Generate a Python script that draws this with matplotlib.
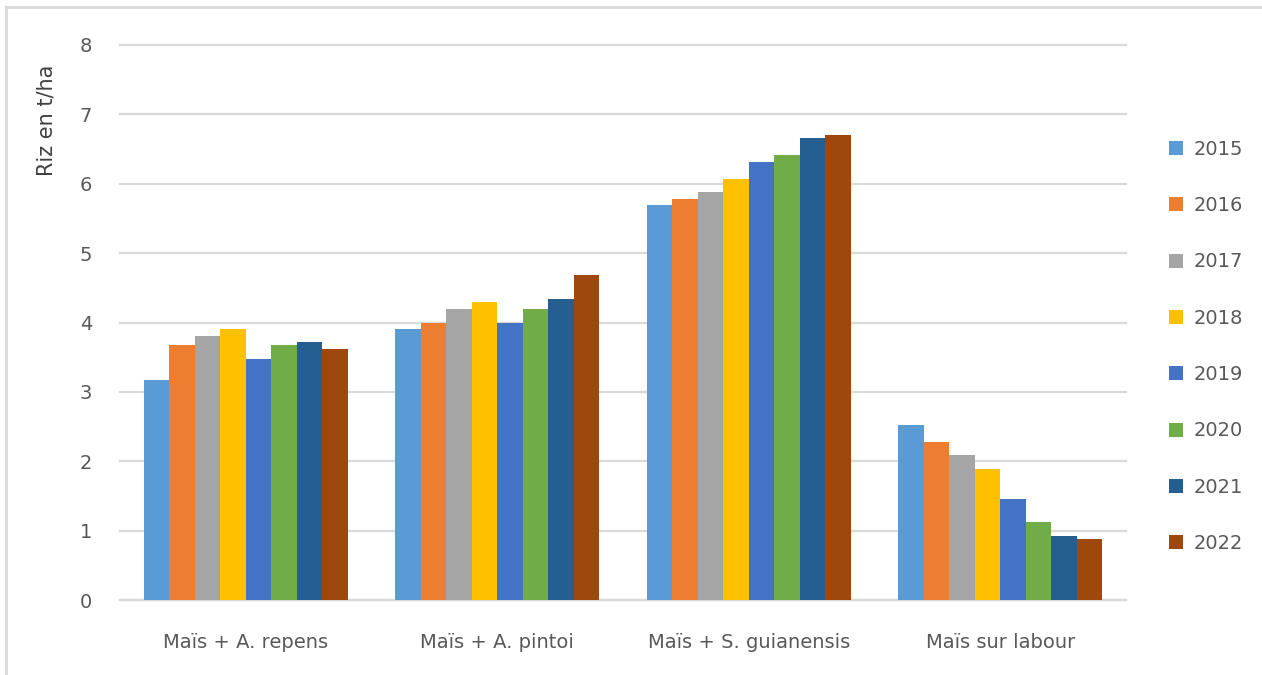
import matplotlib.pyplot as plt
import numpy as np
from matplotlib.patches import Patch
from matplotlib.lines import Line2D

# data (t/ha)
categories = ['Maïs + A. repens', 'Maïs + A. pintoi', 'Maïs + S. guianensis', 'Maïs sur labour']
years = ['2015', '2016', '2017', '2018', '2019', '2020', '2021', '2022']
y2015 = [3.17, 3.90, 5.69, 2.52]
y2016 = [3.67, 4.00, 5.78, 2.28]
y2017 = [3.80, 4.19, 5.88, 2.09]
y2018 = [3.90, 4.29, 6.07, 1.89]
y2019 = [3.47, 4.00, 6.31, 1.46]
y2020 = [3.67, 4.19, 6.41, 1.12]
y2021 = [3.72, 4.34, 6.66, 0.92]
y2022 = [3.62, 4.68, 6.70, 0.88]
series = [y2015, y2016, y2017, y2018, y2019, y2020, y2021, y2022]
colors = ['#5B9BD5', '#ED7D31', '#A5A5A5', '#FFC000', '#4472C4', '#70AD47', '#255E91', '#9E480E']

W, H = 1262, 675
fig = plt.figure(figsize=(W / 100, H / 100), dpi=100)
ax = fig.add_axes([120 / W, (H - 600) / H, (1126 - 120) / W, (600 - 45) / H])

ind = np.arange(len(categories))
width = 0.813 / len(series)
for i, vals in enumerate(series):
    ax.bar(ind - 0.4065 + width * (i + 0.5), vals, width, color=colors[i], zorder=3)

ax.set_xlim(-0.5, 3.5)
ax.set_ylim(0, 8)
ax.set_yticks(range(0, 9))
ax.yaxis.grid(True, color='#d9d9d9', linewidth=1.6, zorder=0, clip_on=False)
for s in ['top', 'right', 'left']:
    ax.spines[s].set_visible(False)
ax.spines['bottom'].set_color('#d9d9d9')
ax.spines['bottom'].set_linewidth(1.6)
ax.set_xticks(ind)
ax.set_xticklabels(categories)
ax.tick_params(axis='both', length=0, colors='#595959', labelsize=14)
ax.tick_params(axis='y', pad=20)
ax.tick_params(axis='x', pad=24)

fig.text(46 / W, (H - 120) / H, 'Riz en t/ha', rotation=90, ha='center', va='center',
         fontsize=15, color='#404040')

handles = [Patch(facecolor=c) for c in colors]
fig.legend(handles, years, loc='upper left', bbox_to_anchor=(1161 / W, (H - 132) / H),
           frameon=False, fontsize=14, labelcolor='#595959', handlelength=0.75,
           handleheight=0.75, handletextpad=0.55, labelspacing=1.92, borderaxespad=0)

# light frame around the chart
fig.add_artist(Line2D([6 / W, 6 / W], [0, (H - 7) / H], color='#d9d9d9', linewidth=2))
fig.add_artist(Line2D([6 / W, 1], [(H - 7) / H, (H - 7) / H], color='#d9d9d9', linewidth=2))

fig.savefig('out.png', dpi=100)
